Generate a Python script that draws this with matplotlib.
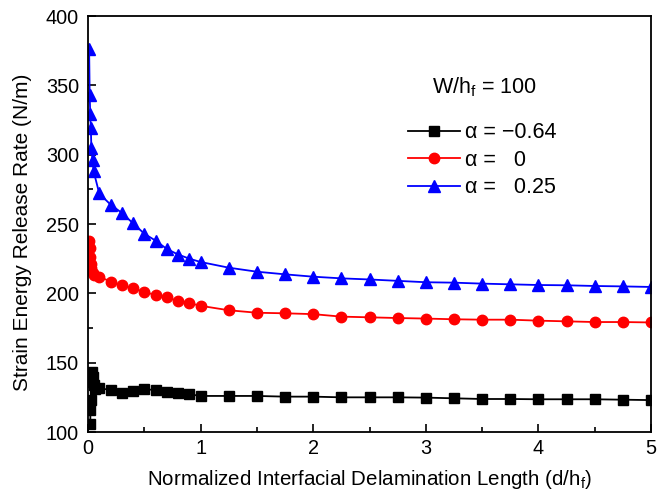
import numpy as np
import matplotlib
matplotlib.use("Agg")
import matplotlib.pyplot as plt
from matplotlib.ticker import MultipleLocator

plt.rcParams['font.family'] = ['Liberation Sans', 'DejaVu Sans']
plt.rcParams['mathtext.default'] = 'regular'

# normalized delamination length d/h_f
x_blue = [0.01, 0.015, 0.02, 0.025, 0.03, 0.04, 0.05,
          0.1, 0.2, 0.3, 0.4, 0.5, 0.6, 0.7, 0.8, 0.9, 1.0,
          1.25, 1.5, 1.75, 2.0, 2.25, 2.5, 2.75, 3.0, 3.25, 3.5, 3.75, 4.0, 4.25, 4.5, 4.75, 5.0]
g_blue = [376, 343, 329, 319, 305, 296, 288,
          272, 264, 258, 250.5, 243, 238, 232, 228, 225, 222.6,
          218.5, 215.6, 213.7, 212, 210.8, 210, 209, 208, 207.7, 207, 206.5, 206, 205.8, 205.3, 205, 204.6]

x_red = [0.01, 0.015, 0.02, 0.025, 0.03, 0.04, 0.05,
         0.1, 0.2, 0.3, 0.4, 0.5, 0.6, 0.7, 0.8, 0.9, 1.0,
         1.25, 1.5, 1.75, 2.0, 2.25, 2.5, 2.75, 3.0, 3.25, 3.5, 3.75, 4.0, 4.25, 4.5, 4.75, 5.0]
g_red = [238, 233, 226, 221, 218, 215, 213,
         212, 208.5, 206, 203.6, 201, 198.8, 197, 194.5, 193, 191,
         187.8, 186, 185.6, 185, 183.2, 182.7, 182.2, 181.8, 181.3, 181, 181, 180.3, 179.8, 179.3, 179.3, 179]

x_black = [0.02, 0.022, 0.025, 0.03, 0.035, 0.04, 0.05, 0.06,
           0.1, 0.2, 0.3, 0.4, 0.5, 0.6, 0.7, 0.8, 0.9, 1.0,
           1.25, 1.5, 1.75, 2.0, 2.25, 2.5, 2.75, 3.0, 3.25, 3.5, 3.75, 4.0, 4.25, 4.5, 4.75, 5.0]
g_black = [106, 116, 123, 136, 143, 140, 134, 131,
           131.5, 130.4, 128.4, 129.6, 130.8, 130.3, 129, 128.4, 127.2, 126,
           126, 126, 125.5, 125.5, 125, 125, 125, 124.8, 124.3, 123.8, 123.8, 123.6, 123.6, 123.6, 123.3, 123]

fig = plt.figure(figsize=(6.67, 4.98), dpi=100)
ax = fig.add_axes([88/667, 1 - 432/498, (651-88)/667, (432-16)/498])

ax.plot(x_black, g_black, color='black', marker='s', markersize=6.5, lw=1.3, label='\u03b1 = \u22120.64')
ax.plot(x_red, g_red, color='red', marker='o', markersize=7.5, lw=1.3, label='\u03b1 =   0')
ax.plot(x_blue, g_blue, color='blue', marker='^', markersize=8, lw=1.3, label='\u03b1 =   0.25')

ax.set_xlim(0, 5)
ax.set_ylim(100, 400)
ax.xaxis.set_major_locator(MultipleLocator(1))
ax.xaxis.set_minor_locator(MultipleLocator(0.5))
ax.yaxis.set_major_locator(MultipleLocator(50))
ax.yaxis.set_minor_locator(MultipleLocator(25))
ax.tick_params(which='both', direction='in', labelsize=14.3, width=1.2)
ax.tick_params(which='major', length=6)
ax.tick_params(which='minor', length=3.5)
ax.tick_params(axis='y', pad=6.5)
ax.tick_params(axis='x', pad=5)
for s in ax.spines.values():
    s.set_linewidth(1.3)

ax.set_xlabel('Normalized Interfacial Delamination Length (d/h$_f$)', fontsize=14.8, labelpad=7)
ax.set_ylabel('Strain Energy Release Rate (N/m)', fontsize=15, labelpad=7)
ax.yaxis.set_label_coords(-0.1, 0.48)

ax.text(0.705, 0.815, 'W/h$_f$ = 100', transform=ax.transAxes, ha='center', fontsize=15.5)
ax.legend(loc='upper left', bbox_to_anchor=(0.5526, 0.765), frameon=False, fontsize=15.5,
          handlelength=2.45, handletextpad=0.2, labelspacing=0.3, borderaxespad=0)

fig.savefig('out.png', dpi=100)
